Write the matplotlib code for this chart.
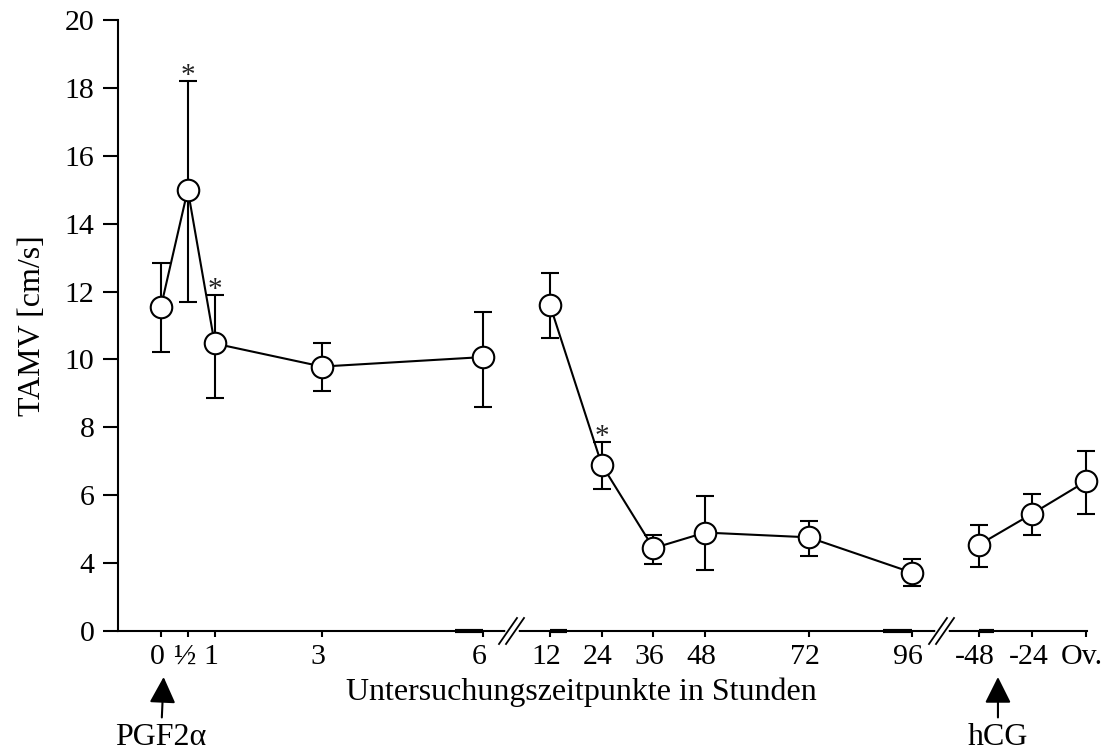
import matplotlib
matplotlib.use('Agg')
import matplotlib.pyplot as plt
from matplotlib.lines import Line2D
from matplotlib.transforms import ScaledTranslation
import numpy as np

plt.rcParams['font.family'] = ['Liberation Serif', 'DejaVu Serif']

# ---------------- data ----------------
# segment A: hours after PGF2alpha
hours_a = [0, 0.5, 1, 3, 6]
labels_a = ['0', '½', '1', '3', '6']
mean_a = [11.55, 15.0, 10.47, 9.79, 10.07]
low_a = [10.23, 11.68, 8.87, 9.07, 8.61]
high_a = [12.84, 18.20, 11.90, 10.48, 11.41]
sig_a = [0.5, 1]

# segment B: later hours
hours_b = [12, 24, 36, 48, 72, 96]
labels_b = ['12', '24', '36', '48', '72', '96']
mean_b = [11.60, 6.90, 4.44, 4.90, 4.76, 3.72]
low_b = [10.64, 6.18, 3.97, 3.79, 4.20, 3.33]
high_b = [12.56, 7.57, 4.84, 5.97, 5.23, 4.12]
sig_b = [24]

# segment C: hours relative to ovulation
hours_c = [-48, -24, 0]
labels_c = ['-48', '-24', 'Ov.']
mean_c = [4.54, 5.46, 6.41]
low_c = [3.90, 4.84, 5.45]
high_c = [5.13, 6.05, 7.30]
sig_c = []

ytick_vals = [2, 4, 6, 8, 10, 12, 14, 16, 18, 20]
ytick_labels = ['0', '4', '6', '8', '10', '12', '14', '16', '18', '20']

# ---------------- layout ----------------
W, H = 1106, 751
fig = plt.figure(figsize=(W / 100, H / 100), dpi=100)


def fx(px):
    return px / W


def fy(py):
    return 1 - py / H


AX_TOP, AX_BOT = 20, 631


def afy(py):
    return (AX_BOT - py) / (AX_BOT - AX_TOP)


bottom, top = fy(AX_BOT), fy(AX_TOP)
ax1 = fig.add_axes([fx(118), bottom, fx(512) - fx(118), top - bottom])
ax2 = fig.add_axes([fx(512), bottom, fx(942) - fx(512), top - bottom])
ax3 = fig.add_axes([fx(942), bottom, fx(1087) - fx(942), top - bottom])

ax1.set_xlim(-0.80, 6.54)
ax2.set_xlim(3.18, 102.96)
ax3.set_xlim(-64.6, 0.45)

FS = 23
TFS = 21.5
LW = 1.5
segments = [
    (ax1, hours_a, labels_a, mean_a, low_a, high_a, sig_a),
    (ax2, hours_b, labels_b, mean_b, low_b, high_b, sig_b),
    (ax3, hours_c, labels_c, mean_c, low_c, high_c, sig_c),
]

shift = ScaledTranslation(-4 / 100, 0, fig.dpi_scale_trans)

for ax, hrs, labs, m, lo, hi, sig in segments:
    m = np.array(m)
    lo = np.array(lo)
    hi = np.array(hi)
    ax.set_ylim(2, 20)
    ax.set_facecolor('none')
    for s in ['top', 'right']:
        ax.spines[s].set_visible(False)
    ax.spines['bottom'].set_linewidth(LW)
    ax.set_xticks(hrs)
    ax.set_xticklabels(labs)
    ax.tick_params(axis='x', direction='out', length=4, width=LW, pad=5,
                   labelsize=TFS, colors='black')
    for lab in ax.get_xticklabels():
        lab.set_transform(lab.get_transform() + shift)
    eb = ax.errorbar(hrs, m, yerr=[m - lo, hi - m], fmt='none', ecolor='black',
                     elinewidth=LW, capsize=6.5, capthick=LW, zorder=2)
    for art in list(eb.lines[1]) + list(eb.lines[2]):
        art.set_clip_on(False)
    ax.plot(hrs, m, color='black', lw=LW, zorder=3, clip_on=False)
    ax.plot(hrs, m, 'o', ms=15.5, mfc='white', mec='black', mew=LW,
            zorder=4, clip_on=False)
    for h in sig:
        i = hrs.index(h)
        ax.text(h, hi[i] - 0.06, '*', ha='center', va='baseline', fontsize=21,
                color='#222222')

# y axis only on first panel
ax1.spines['left'].set_linewidth(LW)
ax1.set_yticks(ytick_vals)
ax1.set_yticklabels(ytick_labels)
ax1.tick_params(axis='y', direction='out', length=11, width=LW, pad=6,
                labelsize=TFS)
for ax in (ax2, ax3):
    ax.spines['left'].set_visible(False)
    ax.set_yticks([])

# thicker stubs on the axis next to the breaks
for ax, x0, x1 in [(ax1, hours_a[-1] - 0.52, hours_a[-1]),
                   (ax2, hours_b[0], hours_b[0] + 3.9),
                   (ax2, hours_b[-1] - 6.7, hours_b[-1]),
                   (ax3, hours_c[0], hours_c[0] + 6.7)]:
    ax.plot([x0, x1], [2, 2], color='black', lw=3, solid_capstyle='butt',
            clip_on=False, zorder=5)

# break marks "//"
for bx in (512, 942):
    fig.add_artist(Line2D([fx(bx - 4), fx(bx + 4)], [fy(AX_BOT), fy(AX_BOT)],
                          color='white', lw=4, zorder=10))
    for off in (-4, 3):
        fig.add_artist(Line2D([fx(bx + off - 9), fx(bx + off + 9)],
                              [fy(AX_BOT + 13), fy(AX_BOT - 13)],
                              color='black', lw=1.3, zorder=11))

# axis labels
fig.text(fx(33), (bottom + top) / 2, 'TAMV [cm/s]', rotation=90,
         ha='center', va='center', fontsize=FS)
fig.text(fx(581), fy(692), 'Untersuchungszeitpunkte in Stunden',
         ha='center', va='center', fontsize=FS)

# treatment arrows
arrow = dict(arrowstyle='-|>,head_length=0.7,head_width=0.35', color='black',
             lw=LW, shrinkA=2, shrinkB=0)
ax1.annotate('PGF2α', xy=(0.05, afy(677)), xycoords=('data', 'axes fraction'),
             xytext=(0.0, afy(745)), textcoords=('data', 'axes fraction'),
             ha='center', va='baseline', fontsize=FS, arrowprops=arrow,
             annotation_clip=False)
ax3.annotate('hCG', xy=(-39.5, afy(677)), xycoords=('data', 'axes fraction'),
             xytext=(-39.5, afy(745)), textcoords=('data', 'axes fraction'),
             ha='center', va='baseline', fontsize=FS, arrowprops=arrow,
             annotation_clip=False)

fig.savefig('out.png', dpi=100)
